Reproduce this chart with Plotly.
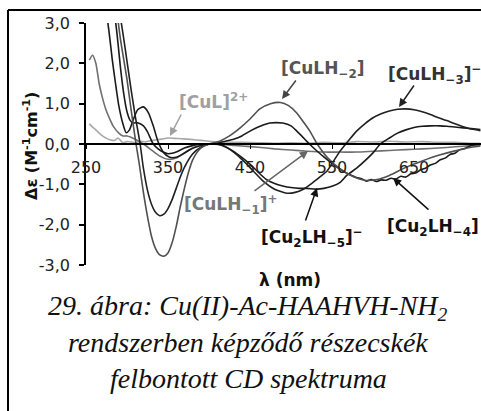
import plotly.graph_objects as go

# ---------------- data ----------------
lam_CuL = [254,258,262,266,270,275,280,285,289,295,300,305,310,317,322,328,335,342,350,358,366,375,385,395,405,420,440,460,480,500,520,540,560,580,600,620,640,660,680,700,720,731]
val_CuL = [0.50,0.42,0.35,0.27,0.2,0.14,0.1,0.09,0.15,0.03,0.06,0.05,0.03,0.07,0.05,0.08,0.1,0.12,0.15,0.14,0.13,0.12,0.1,0.08,0.06,0.05,0.04,0.03,0.02,0.03,0.02,0.04,0.03,0.06,0.05,0.07,0.05,0.06,0.04,0.04,0.02,0.02]

lam_CuLH1 = [254,258,262,266,270,274,279,283,290,295,300,310,320,330,340,350,360,370,380,390,400,420,440,460,480,500,520,540,560,580,600,620,640,660,680,700,720,731]
val_CuLH1 = [2.08,2.2,2.0,1.5,1.15,0.87,0.62,0.45,0.27,0.2,0.2,0.12,0.0,-0.15,-0.3,-0.38,-0.35,-0.22,-0.1,-0.03,0.0,-0.02,-0.05,-0.08,-0.12,-0.15,-0.18,-0.2,-0.2,-0.2,-0.18,-0.16,-0.14,-0.12,-0.1,-0.07,-0.04,-0.03]

lam_CuLH2 = [287,292,296,300,305,311,315,320,325,330,335,340,345,350,355,360,365,370,375,380,385,390,400,413,425,438,450,462,475,487,497,507,515,523,532,545,560,575,590,605,620,640,660,680,700,720,731]
val_CuLH2 = [3.4,2.6,2.1,1.6,0.85,0.0,-0.5,-1.2,-1.8,-2.3,-2.6,-2.75,-2.78,-2.7,-2.45,-2.05,-1.55,-1.1,-0.7,-0.4,-0.22,-0.1,0.0,0.07,0.2,0.4,0.62,0.87,1.0,1.03,0.95,0.77,0.55,0.32,0.0,-0.35,-0.62,-0.8,-0.9,-0.88,-0.78,-0.58,-0.42,-0.28,-0.17,-0.08,-0.05]

lam_CuLH3 = [290,295,300,305,310,316,320,325,330,335,340,345,350,355,360,365,370,380,390,400,413,430,442,454,466,480,495,505,515,525,535,544,552,560,570,580,590,600,610,620,630,640,650,660,670,680,690,700,710,720,731]
val_CuLH3 = [3.4,2.75,2.05,1.35,0.7,0.0,-0.6,-1.15,-1.5,-1.7,-1.78,-1.74,-1.6,-1.38,-1.1,-0.82,-0.58,-0.25,-0.08,0.0,0.0,-0.2,-0.42,-0.67,-0.92,-1.12,-1.22,-1.2,-1.12,-0.98,-0.82,-0.67,-0.42,-0.17,0.08,0.32,0.5,0.65,0.75,0.82,0.86,0.87,0.85,0.8,0.73,0.65,0.58,0.5,0.43,0.37,0.33]

lam_Cu2LH5 = [274,278,282,286,290,295,299,303,308,313,320,326,332,338,345,352,360,368,376,385,395,405,415,425,438,450,460,470,480,490,500,510,519,532,540,550,560,568,580,590,600,609,620,630,640,650,660,670,682,690,700,710,720,731]
val_Cu2LH5 = [3.4,2.8,2.1,1.5,0.95,0.5,0.28,0.35,0.62,0.85,0.92,0.78,0.45,0.05,-0.22,-0.33,-0.33,-0.25,-0.15,-0.07,-0.02,0.0,-0.03,-0.12,-0.3,-0.5,-0.7,-0.88,-0.98,-1.04,-1.08,-1.1,-1.1,-1.12,-1.1,-1.05,-0.95,-0.78,-0.6,-0.42,-0.22,0.0,0.15,0.27,0.35,0.41,0.44,0.45,0.45,0.44,0.42,0.4,0.38,0.36]

lam_Cu2LH4 = [284,288,292,296,300,304,308,312,316,320,325,332,338,344,350,355,360,370,380,390,400,410,420,430,440,450,460,466,474,482,490,500,507,513,519,525,532,540,548,556,564,572,580,586,592,598,604,610,616,622,628,634,640,646,652,658,664,670,676,682,688,694,700,706,712,718,724,731]
val_Cu2LH4 = [3.4,2.7,1.9,1.25,0.8,0.58,0.52,0.53,0.5,0.45,0.3,0.0,-0.12,-0.2,-0.24,-0.23,-0.2,-0.1,-0.04,0.0,0.0,0.02,0.07,0.12,0.2,0.32,0.42,0.47,0.52,0.53,0.52,0.45,0.32,0.2,0.07,-0.05,-0.18,-0.32,-0.45,-0.57,-0.68,-0.76,-0.83,-0.86,-0.92,-0.88,-0.93,-0.89,-0.9,-0.85,-0.87,-0.8,-0.82,-0.74,-0.72,-0.64,-0.6,-0.52,-0.48,-0.39,-0.35,-0.26,-0.23,-0.14,-0.11,-0.05,-0.02,0.0]

x_ticks = [250, 350, 450, 550, 650]
y_ticks = [-3, -2, -1, 0, 1, 2, 3]
y_ticktext = ["-3,0", "-2,0", "-1,0", "0,0", "1,0", "2,0", "3,0"]

# ---------------- geometry helpers (pixels -> paper) ----------------
W, H = 481, 411
L, R, T, B = 86, 481, 23, 265
def px(x):
    return (x - L) / (R - L)
def py(y):
    return (B - y) / (B - T)

series = [
    (lam_CuL, val_CuL, "#a8a8a8"),
    (lam_CuLH1, val_CuLH1, "#707070"),
    (lam_Cu2LH4, val_Cu2LH4, "#1a1a1a"),
    (lam_Cu2LH5, val_Cu2LH5, "#1a1a1a"),
    (lam_CuLH3, val_CuLH3, "#202020"),
    (lam_CuLH2, val_CuLH2, "#505050"),
]

fig = go.Figure()
for xs, ys, c in series:
    fig.add_trace(go.Scatter(x=xs, y=ys, mode="lines",
                             line=dict(color=c, width=1.6, shape="spline", smoothing=0.6),
                             showlegend=False, hoverinfo="skip"))

lab_font = "DejaVu Sans"
annotations = []
def label(text, cx, cy, color):
    annotations.append(dict(text="<b>" + text + "</b>", x=px(cx), y=py(cy), xref="paper", yref="paper",
                            showarrow=False, xanchor="center", yanchor="middle",
                            font=dict(family=lab_font, size=17, color=color)))
def arrow(tx, ty, hx, hy, color):
    annotations.append(dict(text="", x=px(hx), y=py(hy), xref="paper", yref="paper",
                            ax=tx - hx, ay=ty - hy, showarrow=True,
                            arrowhead=2, arrowsize=1.1, arrowwidth=1.5, arrowcolor=color))

label("[CuL]<sup>2+</sup>", 213, 101, "#a0a0a0")
arrow(182, 113, 170, 136, "#a0a0a0")
label("[CuLH<sub>−2</sub>]", 322, 69, "#555555")
arrow(297, 79, 282, 99, "#444444")
label("[CuLH<sub>−3</sub>]<sup>−</sup>", 434, 74, "#333333")
arrow(415, 84, 399, 107, "#222222")
label("[CuLH<sub>−1</sub>]<sup>+</sup>", 230, 205, "#777777")
arrow(253, 192, 308, 151, "#666666")
label("[Cu<sub>2</sub>LH<sub>−5</sub>]<sup>−</sup>", 312, 237, "#111111")
arrow(305, 222, 317, 188, "#111111")
label("[Cu<sub>2</sub>LH<sub>−4</sub>]", 433, 227, "#111111")
arrow(430, 211, 393, 178, "#111111")

# axis titles
annotations.append(dict(text="<b>Δε (M<sup>-1</sup>cm<sup>-1</sup>)</b>", x=px(30), y=py(146),
                        xref="paper", yref="paper", showarrow=False, textangle=-90,
                        xanchor="center", yanchor="middle",
                        font=dict(family=lab_font, size=16, color="#111111")))
annotations.append(dict(text="<b>λ (nm)</b>", x=px(290), y=py(280),
                        xref="paper", yref="paper", showarrow=False,
                        xanchor="center", yanchor="middle",
                        font=dict(family=lab_font, size=17, color="#111111")))

# caption
caption = ["<i>29. ábra: Cu(II)-Ac-HAAHVH-NH<sub>2</sub></i>",
           "<i>rendszerben képződő részecskék</i>",
           "<i>felbontott CD spektruma</i>"]
cap_y = [307, 342, 378]
for t, yy in zip(caption, cap_y):
    annotations.append(dict(text=t, x=px(248), y=py(yy), xref="paper", yref="paper",
                            showarrow=False, xanchor="center", yanchor="middle",
                            font=dict(family="Liberation Serif", size=28, color="#111111")))

shapes = [
    dict(type="line", xref="paper", yref="paper", x0=px(8), x1=px(481), y0=py(10), y1=py(10),
         line=dict(color="black", width=2)),
    dict(type="line", xref="paper", yref="paper", x0=px(8), x1=px(8), y0=py(10), y1=py(411),
         line=dict(color="black", width=2)),
]

fig.update_layout(
    width=W, height=H,
    margin=dict(l=L, r=W - R, t=T, b=H - B, pad=0),
    paper_bgcolor="white", plot_bgcolor="white",
    annotations=annotations, shapes=shapes,
    xaxis=dict(range=[250, 250 + (R - L) / 0.82], tickvals=x_ticks, ticktext=[str(v) for v in x_ticks],
               showgrid=False, zeroline=False, showline=True, linecolor="black", linewidth=1.5,
               anchor="free", position=0.5, ticks="outside", ticklen=4, tickwidth=1.2, tickcolor="black",
               ticklabelstandoff=5,
               tickfont=dict(family=lab_font, size=16, color="#222222")),
    yaxis=dict(range=[-3, 3], tickvals=y_ticks, ticktext=y_ticktext,
               showgrid=False, zeroline=False, showline=True, linecolor="black", linewidth=1.5,
               ticks="outside", ticklen=5, tickwidth=1.5, tickcolor="black",
               ticklabelstandoff=6,
               tickfont=dict(family=lab_font, size=16, color="#222222")),
)

fig.write_html("out.html")
